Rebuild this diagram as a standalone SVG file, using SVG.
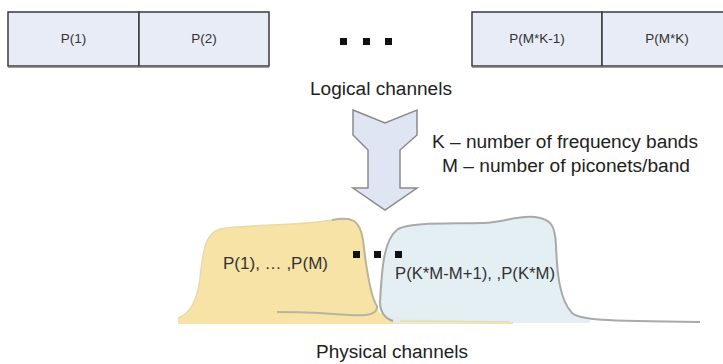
<svg xmlns="http://www.w3.org/2000/svg" width="723" height="364" viewBox="0 0 723 364">
<style>
.box{fill:#e8ecf7;stroke:#3a3a3a;stroke-width:1.5}
.shadow{stroke:#777;stroke-width:1.5}
.bt{font-family:"Liberation Sans",Arial,sans-serif;font-size:13.5px;fill:#333;text-anchor:middle}
.lbl{font-family:"Liberation Sans",Arial,sans-serif;font-size:18px;fill:#222}
.sm{font-family:"Liberation Sans",Arial,sans-serif;font-size:17px;fill:#333}
.dot{fill:#111}
</style>
<rect width="723" height="364" fill="#fff"/>
<g id="logical">
  <g id="p1"><rect class="box" x="8" y="12" width="131" height="54"/><text class="bt" x="73.5" y="43">P(1)</text></g>
  <g id="p2"><rect class="box" x="139" y="12" width="130" height="54"/><text class="bt" x="204" y="43">P(2)</text></g>
  <g id="pmk1"><rect class="box" x="472" y="12" width="130" height="54"/><text class="bt" x="537" y="43">P(M*K-1)</text></g>
  <g id="pmk"><rect class="box" x="602" y="12" width="130" height="54"/><text class="bt" x="667" y="43">P(M*K)</text></g>
  <line class="shadow" x1="8" y1="67" x2="269" y2="67"/>
  <line class="shadow" x1="472" y1="67" x2="723" y2="67"/>
  <g id="dots-top">
    <rect class="dot" x="340" y="38" width="7" height="7"/>
    <rect class="dot" x="363" y="38" width="7" height="7"/>
    <rect class="dot" x="385" y="38" width="7" height="7"/>
  </g>
  <text id="logical-label" class="lbl" x="310" y="95" textLength="142" lengthAdjust="spacingAndGlyphs">Logical channels</text>
</g>
<g id="connectors">
  <polygon points="353,110 385,123 417,110 417,135 400,150 400,188 417,188 385,210 353,188 368,188 368,150 353,135" fill="#dfe5f2" stroke="#8a8a8a" stroke-width="1.5" stroke-linejoin="miter"/>
</g>
<g id="legend">
  <text class="lbl" x="432" y="148" textLength="266" lengthAdjust="spacingAndGlyphs">K – number of frequency bands</text>
  <text class="lbl" x="442" y="172" textLength="248" lengthAdjust="spacingAndGlyphs">M – number of piconets/band</text>
</g>
<g id="physical">
  <g id="band1">
    <path d="M178,318 C190,314 197,302 200,278 C203,250 205,234 220,229 C250,224 300,226 332,220 C352,216 360,220 363,240 C367,275 370,300 380,313 C390,318 420,320 513,321 L513,324 L178,324 Z" fill="#f8e3a6"/>
    <path d="M178,318 C190,314 197,302 200,278 C203,250 205,234 220,229 C250,224 300,226 332,220" fill="none" stroke="#ead9a6" stroke-width="1.5"/>
  </g>
  <g id="band2">
    <path d="M380,302 C382,270 383,240 398,229 C412,222 450,224 483,223 C505,222 518,215 535,217 C551,219 555,225 556,245 C557,275 560,300 572,313 C578,318 585,319 590,320 L590,323 L395,323 C385,321 380,314 380,302 Z" fill="#e1edf3" fill-opacity="0.9"/>
  </g>
  <path d="M332,220 C352,216 360,220 363,240 C367,275 371,298 377,306 C378,318 360,316 320,313 C300,312 290,312 277,312" fill="none" stroke="#b9b3a0" stroke-width="2"/>
  <path d="M393,321 C384,318 380,312 380,302 C382,270 383,240 398,229 C412,222 450,224 483,223 C505,222 518,215 535,217 C551,219 555,225 556,245 C557,275 560,300 572,313 C580,320 600,321 700,322" fill="none" stroke="#a9a9a9" stroke-width="2"/>
  <path d="M400,321 L513,322" fill="none" stroke="#e6d9b4" stroke-width="1.5"/>
  <text class="sm" x="223" y="269" textLength="105" lengthAdjust="spacingAndGlyphs">P(1),  … ,P(M)</text>
  <text class="sm" x="395" y="279" textLength="160" lengthAdjust="spacingAndGlyphs">P(K*M-M+1), ,P(K*M)</text>
  <g id="dots-mid">
    <rect class="dot" x="353" y="251" width="7" height="7"/>
    <rect class="dot" x="374" y="251" width="7" height="7"/>
    <rect class="dot" x="395" y="251" width="7" height="7"/>
  </g>
  <text id="physical-label" class="lbl" x="316" y="358" textLength="152" lengthAdjust="spacingAndGlyphs">Physical channels</text>
</g>
</svg>
